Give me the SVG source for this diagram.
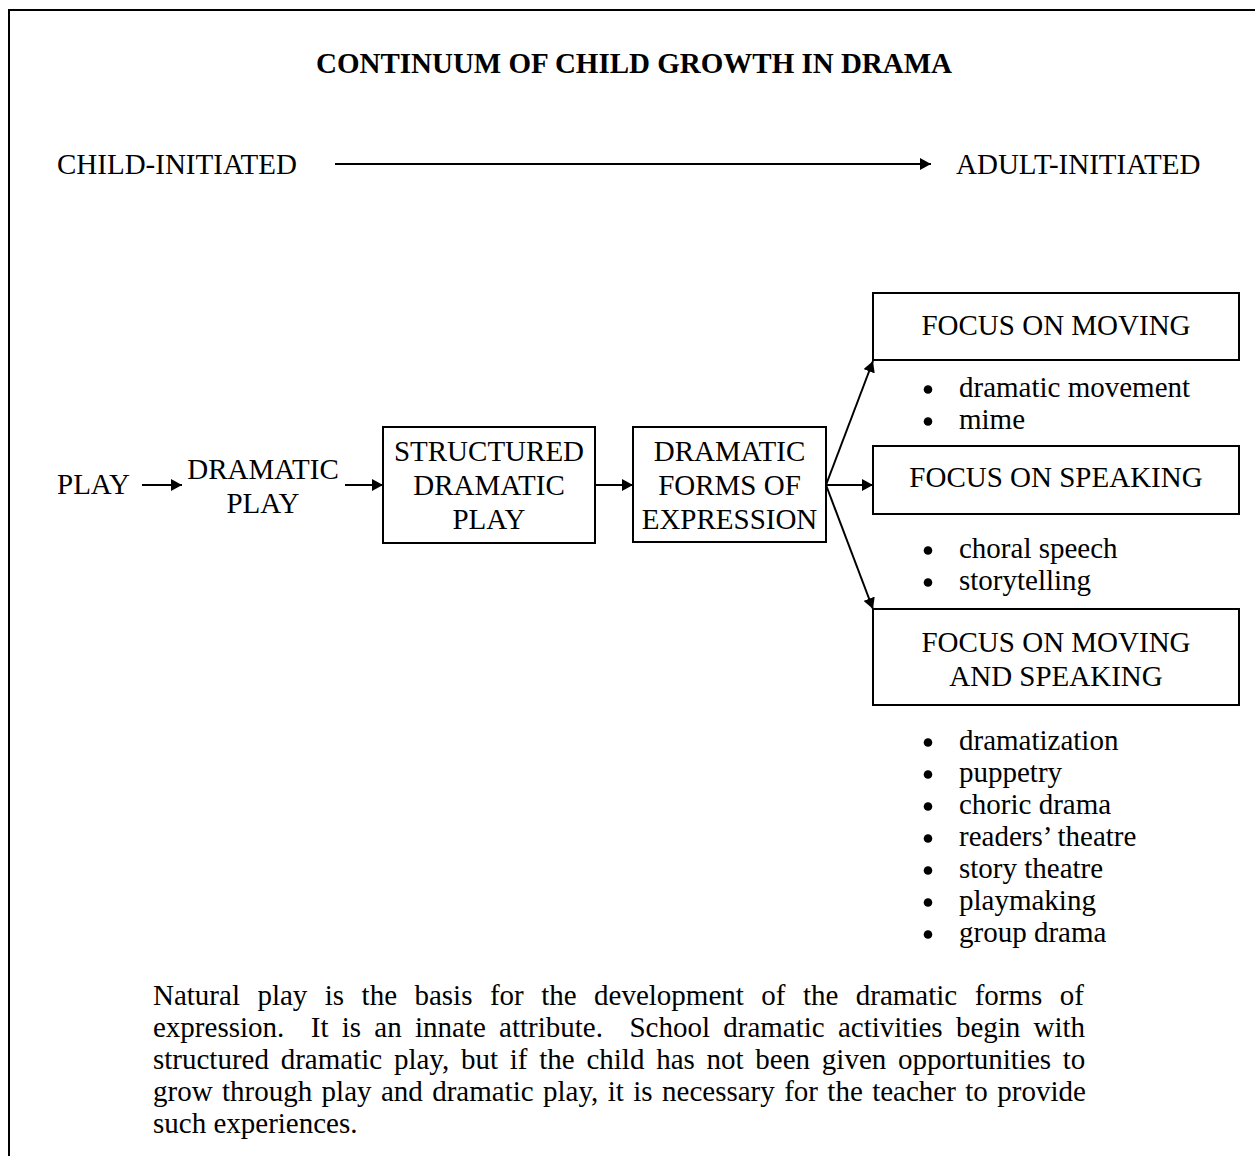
<svg xmlns="http://www.w3.org/2000/svg" width="1255" height="1156" viewBox="0 0 1255 1156">
<style>
text{font-family:"Liberation Serif","Times New Roman",serif;font-size:29px;fill:#000}
.t{font-weight:bold}
.c{text-anchor:middle}
.p{white-space:pre}
.box{fill:#fff;stroke:#000;stroke-width:2}
.ln{fill:none;stroke:#000;stroke-width:2;marker-end:url(#ah)}
.b{fill:#000}
</style>
<defs>
<marker id="ah" markerUnits="userSpaceOnUse" markerWidth="12" markerHeight="12" refX="11" refY="6" orient="auto">
<path d="M0,0 L11,6 L0,12 z" fill="#000"/>
</marker>
</defs>
<rect width="1255" height="1156" fill="#fff"/>
<path d="M9,1156 V10 H1255" fill="none" stroke="#000" stroke-width="2"/>
<text class="t c" x="634" y="73">CONTINUUM OF CHILD GROWTH IN DRAMA</text>
<g id="child-initiated"><text x="57" y="174">CHILD-INITIATED</text></g>
<g id="adult-initiated"><text x="956" y="174">ADULT-INITIATED</text></g>
<g id="connectors">
<line class="ln" x1="335" y1="164" x2="931" y2="164"/>
<line class="ln" x1="142" y1="485" x2="182" y2="485"/>
<line class="ln" x1="345" y1="485" x2="383" y2="485"/>
<line class="ln" x1="595" y1="485" x2="633" y2="485"/>
<line class="ln" x1="826" y1="485" x2="873" y2="485"/>
<line class="ln" x1="826" y1="485" x2="873" y2="361"/>
<line class="ln" x1="826" y1="485" x2="873" y2="609"/>
</g>
<g id="play"><text x="57" y="494">PLAY</text></g>
<g id="dramatic-play"><text class="c" x="263" y="479">DRAMATIC</text><text class="c" x="263" y="513">PLAY</text></g>
<g id="structured-dramatic-play">
<rect class="box" x="383" y="427" width="212" height="116"/>
<text class="c" x="489" y="461">STRUCTURED</text><text class="c" x="489" y="495">DRAMATIC</text><text class="c" x="489" y="529">PLAY</text>
</g>
<g id="dramatic-forms">
<rect class="box" x="633" y="427" width="193" height="115"/>
<text class="c" x="729.5" y="461">DRAMATIC</text><text class="c" x="729.5" y="495">FORMS OF</text><text class="c" x="729.5" y="529">EXPRESSION</text>
</g>
<g id="focus-moving">
<rect class="box" x="873" y="293" width="366" height="67"/>
<text class="c" x="1056" y="335">FOCUS ON MOVING</text>
</g>
<g id="focus-speaking">
<rect class="box" x="873" y="446" width="366" height="68"/>
<text class="c" x="1056" y="487">FOCUS ON SPEAKING</text>
</g>
<g id="focus-moving-speaking">
<rect class="box" x="873" y="609" width="366" height="96"/>
<text class="c" x="1056" y="652">FOCUS ON MOVING</text><text class="c" x="1056" y="686">AND SPEAKING</text>
</g>
<g id="list-moving">
<circle class="b" cx="928" cy="389.5" r="4.3"/><text x="959" y="397">dramatic movement</text>
<circle class="b" cx="928" cy="421.5" r="4.3"/><text x="959" y="429">mime</text>
</g>
<g id="list-speaking">
<circle class="b" cx="928" cy="550.5" r="4.3"/><text x="959" y="558">choral speech</text>
<circle class="b" cx="928" cy="582.5" r="4.3"/><text x="959" y="590">storytelling</text>
</g>
<g id="list-both">
<circle class="b" cx="928" cy="742.5" r="4.3"/><text x="959" y="750">dramatization</text>
<circle class="b" cx="928" cy="774.5" r="4.3"/><text x="959" y="782">puppetry</text>
<circle class="b" cx="928" cy="806.5" r="4.3"/><text x="959" y="814">choric drama</text>
<circle class="b" cx="928" cy="838.5" r="4.3"/><text x="959" y="846">readers’ theatre</text>
<circle class="b" cx="928" cy="870.5" r="4.3"/><text x="959" y="878">story theatre</text>
<circle class="b" cx="928" cy="902.5" r="4.3"/><text x="959" y="910">playmaking</text>
<circle class="b" cx="928" cy="934.5" r="4.3"/><text x="959" y="942">group drama</text>
</g>
<g id="note">
<text class="p" xml:space="preserve" x="153" y="1005" style="word-spacing:10.2px">Natural play is the basis for the development of the dramatic forms of</text>
<text class="p" xml:space="preserve" x="153" y="1037" style="word-spacing:6px">expression.  It is an innate attribute.  School dramatic activities begin with</text>
<text class="p" xml:space="preserve" x="153" y="1069" style="word-spacing:4.5px">structured dramatic play, but if the child has not been given opportunities to</text>
<text class="p" xml:space="preserve" x="153" y="1101" style="word-spacing:2.15px">grow through play and dramatic play, it is necessary for the teacher to provide</text>
<text x="153" y="1133">such experiences.</text>
</g>
</svg>
